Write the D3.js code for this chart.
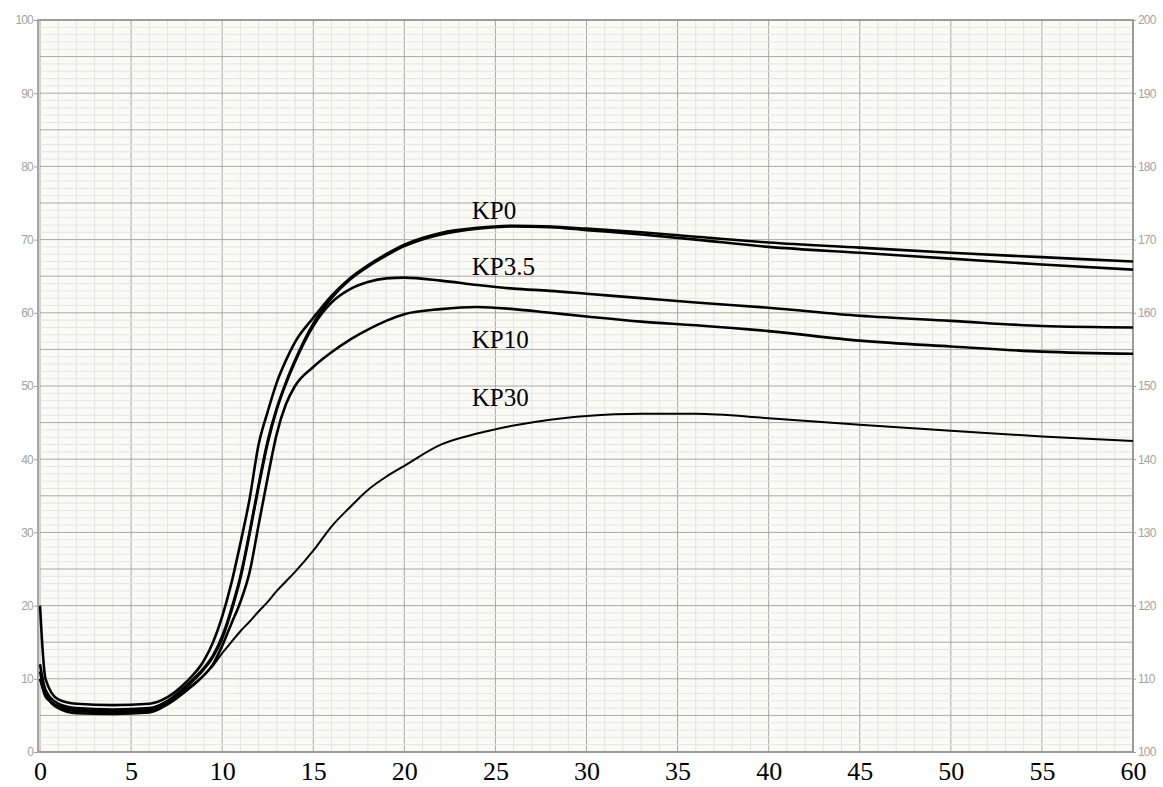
<!DOCTYPE html>
<html>
<head>
<meta charset="utf-8">
<script src="https://cdn.jsdelivr.net/npm/d3@7"></script>
<style>
  body { margin: 0; background: #ffffff; }
</style>
</head>
<body>
<div id="chart"></div>
<script>
// time in minutes, shared by every trace
var minutes = [0, 0.3, 1, 2, 4, 6, 7, 8, 9, 9.5, 10, 10.5, 11, 11.5, 12, 12.5, 13, 13.5, 14,
    15, 16, 17, 18, 19, 20, 22, 24, 26, 28, 30, 33, 36, 40, 45, 50, 55, 60];

var kp0 = [20, 10, 7.2, 6.6, 6.4, 6.6, 7.5, 9.5, 12.5, 15, 18.5, 23, 28.5, 34.5, 42, 46.5, 50.5, 53.5, 56,
    59.3, 62.3, 64.7, 66.5, 68, 69.3, 70.9, 71.6, 71.9, 71.8, 71.5, 71.0, 70.4, 69.6, 68.9, 68.2, 67.6, 67.0];
var kp0b = [12, 8.5, 6.6, 6.0, 5.8, 6.0, 7.0, 9.0, 11.5, 13.2, 15.8, 19.5, 24, 30, 36.5, 42.5, 47, 50.5, 53.5,
    58.5, 62, 64.5, 66.3, 67.8, 69.1, 70.7, 71.5, 71.8, 71.7, 71.3, 70.7, 70.0, 69.0, 68.2, 67.4, 66.6, 65.9];
var kp35 = [10, 8, 6.2, 5.6, 5.4, 5.6, 6.8, 8.8, 11.3, 13, 15.5, 19.2, 23.7, 29.7, 36.2, 42.2, 46.8, 50.3, 53.3,
    58.2, 61.4, 63.2, 64.2, 64.7, 64.8, 64.4, 63.8, 63.3, 63.0, 62.6, 62.0, 61.4, 60.7, 59.6, 58.9, 58.2, 58.0];
var kp10 = [11, 8, 6.0, 5.3, 5.2, 5.4, 6.5, 8.3, 10.5, 12, 14.5, 17.5, 20.5, 24.5, 31, 37.5, 43.5, 47.5, 50.0,
    52.6, 54.6, 56.3, 57.7, 58.9, 59.8, 60.5, 60.8, 60.5, 60.0, 59.5, 58.8, 58.3, 57.5, 56.2, 55.4, 54.7, 54.4];
var kp30 = [10, 7.5, 6.3, 5.8, 5.6, 5.8, 6.8, 8.5, 10.5, 11.8, 13.5, 15.0, 16.5, 17.8, 19.2, 20.5, 22.0, 23.3, 24.6,
    27.5, 30.8, 33.4, 35.8, 37.6, 39.1, 42.0, 43.5, 44.6, 45.4, 45.9, 46.2, 46.2, 45.6, 44.7, 43.9, 43.1, 42.5];

var labelNames = ["KP0", "KP3.5", "KP10", "KP30"];
var seriesValues = [kp0, kp0b, kp35, kp10, kp30];

var xTicks = d3.range(0, 61, 5);
var leftTicks = d3.range(0, 101, 10);
var rightTicks = d3.range(100, 201, 10);

var w = 1163;
var h = 787;

var svg = d3.select("#chart")
    .append("svg")
    .attr("width", w)
    .attr("height", h);

var x = d3.scaleLinear().domain([0, 60]).range([40, 1133]);
var y = d3.scaleLinear().domain([0, 100]).range([752, 20]);
var yRight = d3.scaleLinear().domain([100, 200]).range([752, 20]);

// chart paper
svg.append("rect")
    .attr("x", x(0)).attr("y", y(100))
    .attr("width", x(60) - x(0)).attr("height", y(0) - y(100))
    .attr("fill", "#fbfbf6");

var grid = svg.append("g");
grid.selectAll("line.vmin")
    .data(d3.range(0, 61, 1))
    .enter().append("line")
    .attr("x1", function (d) { return x(d); })
    .attr("x2", function (d) { return x(d); })
    .attr("y1", y(100)).attr("y2", y(0))
    .attr("stroke", function (d) { return d % 5 === 0 ? "#a8a8a8" : "#e2e2e2"; })
    .attr("stroke-width", 1);
grid.selectAll("line.hmin")
    .data(d3.range(0, 101, 1))
    .enter().append("line")
    .attr("x1", x(0)).attr("x2", x(60))
    .attr("y1", function (d) { return y(d); })
    .attr("y2", function (d) { return y(d); })
    .attr("stroke", function (d) { return d % 5 === 0 ? "#a8a8a8" : "#e4e4e4"; })
    .attr("stroke-width", 1);

// frame and tick labels
svg.append("rect")
    .attr("x", x(0) - 2).attr("y", y(100))
    .attr("width", x(60) - x(0) + 2).attr("height", y(0) - y(100))
    .attr("fill", "none")
    .attr("stroke", "#8a8a8a")
    .attr("stroke-width", 1.5);

var leftAxis = svg.append("g")
    .attr("transform", "translate(" + (x(0) - 2) + ",0)")
    .call(d3.axisLeft(y).tickValues(leftTicks).tickSize(4).tickPadding(1));
var rightAxis = svg.append("g")
    .attr("transform", "translate(" + x(60) + ",0)")
    .call(d3.axisRight(yRight).tickValues(rightTicks).tickSize(3).tickPadding(2));
[leftAxis, rightAxis].forEach(function (a) {
    a.select(".domain").remove();
    a.selectAll("line").attr("stroke", "#a0a0a0");
    a.selectAll("text")
        .attr("fill", "#a3a3a3")
        .attr("font-family", "Liberation Sans, Arial, sans-serif")
        .attr("font-size", "12px")
        .attr("letter-spacing", "-0.8px");
});

var xAxis = svg.append("g")
    .attr("transform", "translate(0," + y(0) + ")")
    .call(d3.axisBottom(x).tickValues(xTicks).tickSize(0).tickPadding(10));
xAxis.select(".domain").remove();
xAxis.selectAll("text")
    .attr("fill", "#000")
    .attr("font-family", "Liberation Serif, Times New Roman, serif")
    .attr("font-size", "26px");

// recorder traces
var line = d3.line()
    .x(function (d) { return x(d[0]); })
    .y(function (d) { return y(d[1]); })
    .curve(d3.curveMonotoneX);

svg.selectAll("path.trace")
    .data(seriesValues)
    .enter()
    .append("path")
    .attr("class", "trace")
    .attr("d", function (vals) {
        return line(minutes.map(function (t, i) { return [t, vals[i]]; }));
    })
    .attr("fill", "none")
    .attr("stroke", "#000")
    .attr("stroke-width", function (d, i) { return i === 4 ? 2 : 2.6; });

// labels written on the paper
var labelPos = [[23.7, 72.8], [23.7, 65.2], [23.7, 55.2], [23.7, 47.2]];
svg.selectAll("text.kp")
    .data(labelPos)
    .enter()
    .append("text")
    .attr("class", "kp")
    .attr("x", function (d) { return x(d[0]); })
    .attr("y", function (d) { return y(d[1]); })
    .text(function (d, i) { return labelNames[i]; })
    .attr("font-family", "Liberation Serif, Times New Roman, serif")
    .attr("font-size", "25px")
    .attr("fill", "#000");
</script>
</body>
</html>
